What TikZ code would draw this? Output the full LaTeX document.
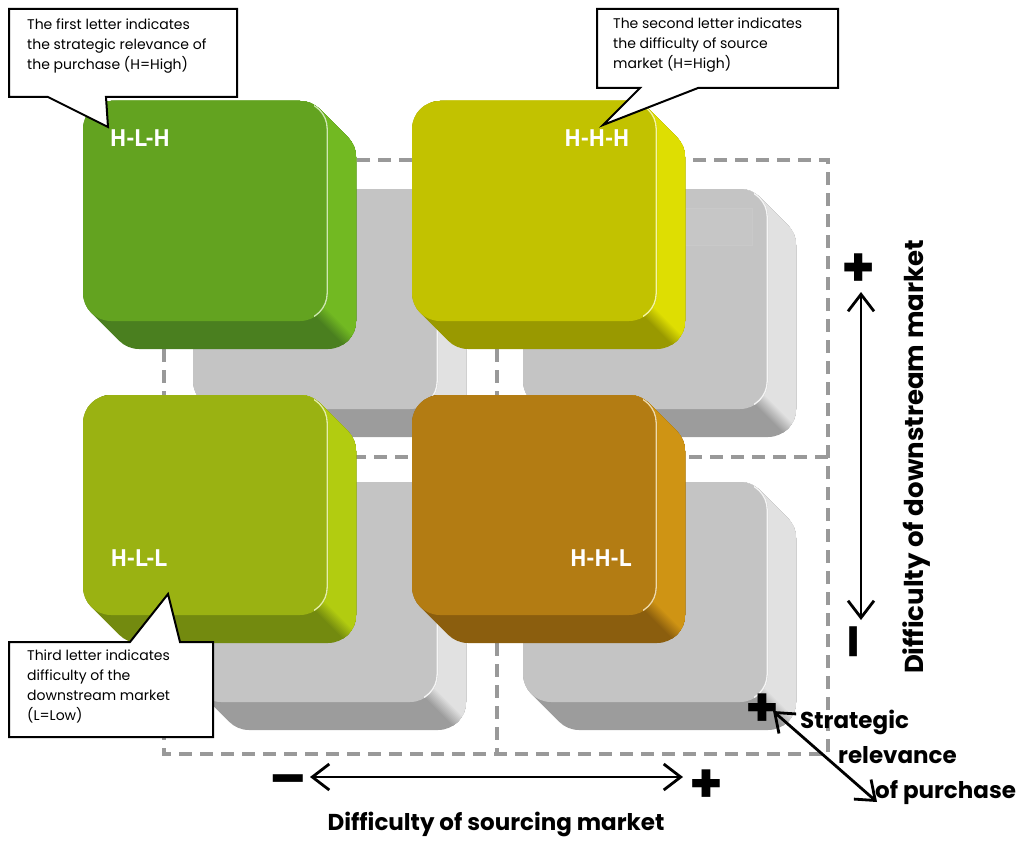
\documentclass[tikz,border=0pt]{standalone}
\usepackage{fontspec}
\setmainfont{Poppins}
\newfontfamily\capfont{PT Sans}
\usetikzlibrary{arrows.meta}

% key colours: front / right side / bottom side
\definecolor{grnF}{HTML}{63A320}\definecolor{grnR}{HTML}{72B922}\definecolor{grnB}{HTML}{4A7F1F}
\definecolor{yelF}{HTML}{C2C200}\definecolor{yelR}{HTML}{DEDE02}\definecolor{yelB}{HTML}{999900}
\definecolor{olvF}{HTML}{9AB212}\definecolor{olvR}{HTML}{B2CC10}\definecolor{olvB}{HTML}{738A0F}
\definecolor{orgF}{HTML}{B37C13}\definecolor{orgR}{HTML}{CF9414}\definecolor{orgB}{HTML}{8B5E0E}
\definecolor{gryF}{HTML}{C4C4C4}\definecolor{gryR}{HTML}{E1E1E1}\definecolor{gryB}{HTML}{9C9C9C}
\definecolor{dashgray}{HTML}{999999}
\definecolor{panelfill}{HTML}{C6C6C6}\definecolor{paneledge}{HTML}{C9C9C9}

\tikzset{
  gridline/.style={draw=dashgray, line width=3.2pt, dash pattern=on 13pt off 8pt},
  callout/.style={draw=black, fill=white, line width=2pt, line join=miter},
  callouttext/.style={anchor=north west, inner sep=0pt, align=left,
    font=\fontsize{14}{20}\selectfont},
  keylabel/.style={text=white, inner sep=0pt, font=\capfont\bfseries\fontsize{24}{24}\selectfont},
  axislabel/.style={inner sep=0pt, font=\bfseries\fontsize{23}{28}\selectfont},
  signlabel/.style={inner sep=0pt, font=\bfseries\fontsize{54}{54}\selectfont},
  axisarrow/.style={line width=2.8pt,
    {Straight Barb[length=17pt,width=26pt]}-{Straight Barb[length=17pt,width=26pt]}},
}

% one rounded, extruded key: #1,#2 top-left of the front face; #3 front, #4 right side, #5 bottom side
\newcommand{\drawkey}[5]{%
  \pgfmathsetmacro\kxa{#1}\pgfmathsetmacro\kya{#2}%
  \pgfmathsetmacro\kxb{#1+245}\pgfmathsetmacro\kyb{#2+220}%
  \pgfmathsetmacro\kc{\kxb-\kyb}%
  \begin{scope}
    \clip[rounded corners=28pt] \foreach \t in {0,...,28} {({\kxa+\t},{\kya+\t}) rectangle ({\kxb+\t},{\kyb+\t})};
    \fill[#5] ({\kxa-5},{\kya-5}) rectangle ({\kxb+40},{\kyb+40});
    \foreach \i in {0,...,10} {
      \pgfmathsetmacro\cc{\kc-10+2*\i}
      \pgfmathsetmacro\mm{10*\i}
      \fill[#4!\mm!#5] ({\cc+\kya-60},{\kya-60}) -- ({\cc+\kyb+80},{\kyb+80})
        -- ({\kxb+120},{\kyb+80}) -- ({\kxb+120},{\kya-60}) -- cycle;
    }
  \end{scope}
  \fill[#3, rounded corners=28pt] (\kxa,\kya) rectangle (\kxb,\kyb);
  \begin{scope}
    \clip ({\kxb-14},{\kya-2}) rectangle ({\kxb+4},{\kyb+2});
    \draw[#4!35!white, line width=1.3pt, rounded corners=27pt] ({\kxa+0.8},{\kya+0.8}) rectangle ({\kxb-0.8},{\kyb-0.8});
  \end{scope}
}

\begin{document}
\begin{tikzpicture}[x=1pt, y=-1pt]
\useasboundingbox (0,0) rectangle (1027,840);

% dashed quadrant grid
\draw[gridline] (164,160) rectangle (828,754);
\draw[gridline] (497,160) -- (497,754);
\draw[gridline] (164,457) -- (828,457);

% grey keys behind
\drawkey{193}{189}{gryF}{gryR}{gryB}
\drawkey{523}{189}{gryF}{gryR}{gryB}
\fill[panelfill, draw=paneledge] (685,208) rectangle (752,245);
\drawkey{193}{482}{gryF}{gryR}{gryB}
\drawkey{523}{482}{gryF}{gryR}{gryB}

% coloured keys
\drawkey{83}{101}{grnF}{grnR}{grnB}
\drawkey{412}{101}{yelF}{yelR}{yelB}
\drawkey{83}{395}{olvF}{olvR}{olvB}
\drawkey{412}{395}{orgF}{orgR}{orgB}

\node[keylabel] (hlh) at (140,138) {H-L-H};
\node[keylabel] (hhh) at (597,138) {H-H-H};
\node[keylabel] (hll) at (139,558) {H-L-L};
\node[keylabel] (hhl) at (601,558) {H-H-L};

% callouts
\draw[callout] (9,9) -- (237,9) -- (237,97) -- (106,97) -- (108,127) -- (48,97) -- (9,97) -- cycle;
\node[callouttext] (c1) at (27,19) {The first letter indicates\\the strategic relevance of\\the purchase (H=High)};

\draw[callout] (597,9) -- (838,9) -- (838,88) -- (698,88) -- (603,125) -- (640,88) -- (597,88) -- cycle;
\node[callouttext] (c2) at (613,18) {The second letter indicates\\the difficulty of source\\market (H=High)};

\draw[callout] (9,642) -- (130,642) -- (168,594) -- (180,642) -- (213,642) -- (213,737) -- (9,737) -- cycle;
\node[callouttext] (c3) at (27,650) {Third letter indicates\\difficulty of the\\downstream market\\(L=Low)};

% horizontal axis
\coordinate (hL) at (310,777);
\coordinate (hR) at (683,777);
\draw[axisarrow] (hL) -- (hR);
\node[signlabel] (hminus) at (288,786) {–};
\node[signlabel] (hplus) at (706,786) {+};
\node[axislabel] (hlab) at (496,824) {Difficulty of sourcing market};

% vertical axis
\coordinate (vT) at (861,292);
\coordinate (vB) at (861,620);
\draw[axisarrow] (vT) -- (vB);
\node[signlabel, rotate=90] (vplus) at (861,268) {+};
\node[signlabel, rotate=90] (vminus) at (861,642) {–};
\node[axislabel, rotate=90, font=\bfseries\fontsize{26}{30}\selectfont] (vlab) at (917,457) {Difficulty of downstream market};

% diagonal axis
\node[signlabel] (dplus) at (762,710) {+};
\coordinate (dT) at (773,711);
\coordinate (dB) at (877,802);
\draw[axisarrow] (dT) -- (dB);
\node[axislabel, anchor=base west] (d1) at (800,728) {Strategic};
\node[axislabel, anchor=base west] (d2) at (838,763) {relevance};
\node[axislabel, anchor=base west] (d3) at (875,798) {of purchase};
\end{tikzpicture}
\end{document}
